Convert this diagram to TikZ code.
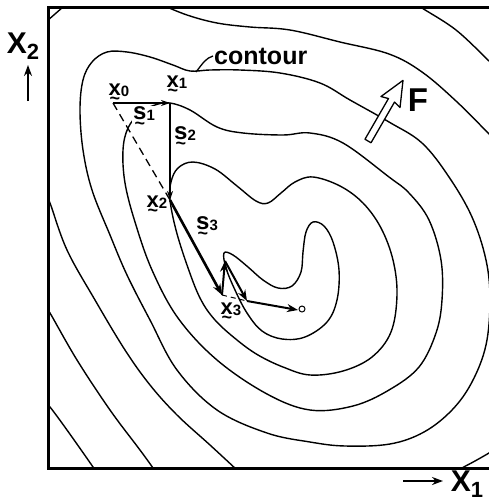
\documentclass[tikz,border=0pt]{standalone}
\usepackage{fontspec}
\setmainfont{Liberation Sans}
\usetikzlibrary{arrows.meta}
\tikzset{
  contour/.style={line width=1.4pt},
  frame/.style={line width=3pt},
  steparrow/.style={line width=1.5pt, -{Stealth[length=9pt,width=6pt]}},
  bigarrow/.style={line width=2.6pt, -{Stealth[length=11pt,width=8pt]}},
  axarrow/.style={line width=2pt, -{Stealth[length=11pt,width=8pt]}},
  vx/.style={font=\fontsize{22}{22}\selectfont\bfseries, inner sep=0pt},
  vs/.style={font=\fontsize{24}{24}\selectfont\bfseries, inner sep=1pt, fill=white},
  axlabel/.style={font=\fontsize{30}{30}\selectfont\bfseries, inner sep=0pt},
}
\newcommand{\vlab}[2]{\setbox0=\hbox{#1}\rlap{\makebox[\wd0]{\raisebox{-0.42em}{\fontsize{18}{18}\selectfont\textasciitilde}}}\box0\raisebox{-1pt}{\fontsize{15}{15}\selectfont #2}}
\newcommand{\axlab}[1]{X\raisebox{-0.18em}{\fontsize{22}{22}\selectfont #1}}
\begin{document}
\begin{tikzpicture}[x=1pt, y=-1pt]
    \useasboundingbox (0,0) rectangle (489,501);
    % contours, cut at the frame
    \begin{scope}
        \clip (48,7) rectangle (489,468);
        \draw[contour] plot[smooth cycle, tension=0.6] coordinates {(224,253) (233,255) (248,267) (263,280) (278,288) (292,286) (301,272) (303,252) (306,232) (313,222) (324,226) (333,242) (339,270) (337,300) (327,322) (305,337) (282,339) (262,331) (247,313) (235,290) (226,268)};
        \draw[contour] plot[smooth cycle, tension=0.6] coordinates {(170,200) (171,182) (178,168) (193,162) (215,169) (237,186) (256,201) (268,203) (281,193) (295,182) (313,177) (340,186) (363,203) (381,228) (393,260) (397,295) (391,332) (372,357) (343,371) (310,375) (283,367) (258,355) (237,340) (215,320) (200,298) (187,265) (176,230)};
        \draw[contour] plot[smooth cycle, tension=0.6] coordinates {(170,103) (190,110) (217,127) (243,133) (283,135) (310,133) (343,143) (389,177) (409,193) (429,220) (441,260) (442,300) (436,333) (419,367) (389,390) (353,406) (310,410) (267,394) (217,360) (178,318) (152,270) (135,222) (125,183) (123,150) (128,128) (140,113) (155,105)};
        \draw[contour] plot[smooth cycle, tension=0.6] coordinates {(107,52) (127,52) (150,57) (173,65) (190,71) (210,70) (240,70) (280,73) (320,83) (350,100) (389,122) (422,143) (449,177) (472,217) (486,260) (490,300) (486,345) (472,382) (452,410) (424,432) (390,444) (345,446) (310,442) (267,433) (217,410) (177,370) (150,320) (127,275) (110,235) (92,190) (83,150) (80,110) (83,80) (92,62)};
        \draw[contour] plot[smooth, tension=0.6] coordinates {(160,4) (187,15) (217,23) (250,27) (290,30) (340,42) (389,54) (422,72) (456,101) (489,134) (500,146)};
        \draw[contour] plot[smooth, tension=0.6] coordinates {(500,446) (489,453) (475,461) (462,468) (456,472)};
        \draw[contour] plot[smooth, tension=0.6] coordinates {(46,196) (50,203) (67,250) (95,300) (125,350) (150,385) (177,415) (210,445) (237,470) (240,473)};
        \draw[contour] (44,25) -- (47,21) -- (63,7) -- (67,4);
        \draw[contour] plot[smooth, tension=0.6] coordinates {(417,4) (422,8) (456,30) (489,61) (495,67)};
        \draw[contour] plot[smooth, tension=0.6] coordinates {(46,308) (50,313) (77,360) (110,410) (140,450) (153,468) (156,473)};
        \draw[contour] plot[smooth, tension=0.6] coordinates {(46,404) (50,407) (67,430) (93,467) (95,471)};
    \end{scope}
    \draw[frame] (489,7) -- (48,7) -- (48,468) -- (489,468);
    % leader of the contour label
    \node[font=\fontsize{25}{25}\selectfont\bfseries, anchor=west, inner sep=1pt] (ctext) at (213,56) {contour};
    \coordinate (lead) at (196,72);
    \draw[line width=1.3pt] (lead) .. controls (203,63) and (206,58) .. (ctext.west);
    % gradient arrow F
    \begin{scope}[shift={(368,141)}, rotate=60]
        \draw[line width=1.3pt, fill=white, line join=round] (0,-3.5) -- (47,-3.5) -- (45,-11) -- (70,0) -- (45,11) -- (47,3.5) -- (0,3.5) -- cycle;
    \end{scope}
    \node[font=\fontsize{33}{33}\selectfont\bfseries, inner sep=0pt] (F) at (418,100) {F};
    % search points
    \coordinate (x0) at (113,103);
    \coordinate (x1) at (170,103);
    \coordinate (x2) at (170,200);
    \coordinate (x3) at (222,295);
    \coordinate (p4) at (225,261);
    \coordinate (p5) at (247,301);
    \draw[line width=1pt] (302,309) circle (3);
    \coordinate (opt) at (298,310);
    \node[vs] (s1) at (144,118) {\vlab{s}{1}};
    \draw[line width=1.3pt, dash pattern=on 8pt off 5pt] (x0) -- (x2);
    \draw[steparrow] (x0) -- (x1);
    \draw[steparrow] (x1) -- (x2);
    \draw[bigarrow] (x2) -- (x3);
    \draw[axarrow] (x3) -- (p4);
    \draw[axarrow] (p4) -- (p5);
    \draw[line width=1pt, dash pattern=on 5pt off 4pt] (x3) -- (p5);
    \draw[axarrow] (p5) -- (opt);
    % labels
    \node[vx] (lx0) at (119,94) {\vlab{x}{0}};
    \node[vx] (lx1) at (177,86) {\vlab{x}{1}};
    \node[vx] (lx2) at (157,206) {\vlab{x}{2}};
    \node[vx] (lx3) at (231,313) {\vlab{x}{3}};
    \node[vs, fill=none] (s2) at (185,138) {\vlab{s}{2}};
    \node[vs, fill=none] (s3) at (207,228) {\vlab{s}{3}};
    % axes
    \node[axlabel] (X2) at (23,46) {\axlab{2}};
    \coordinate (a2) at (28,101);
    \coordinate (b2) at (28,65);
    \draw[axarrow] (a2) -- (b2);
    \node[axlabel] (X1) at (467,484) {\axlab{1}};
    \coordinate (a1) at (403,481);
    \coordinate (b1) at (443,481);
    \draw[axarrow] (a1) -- (b1);
\end{tikzpicture}
\end{document}
